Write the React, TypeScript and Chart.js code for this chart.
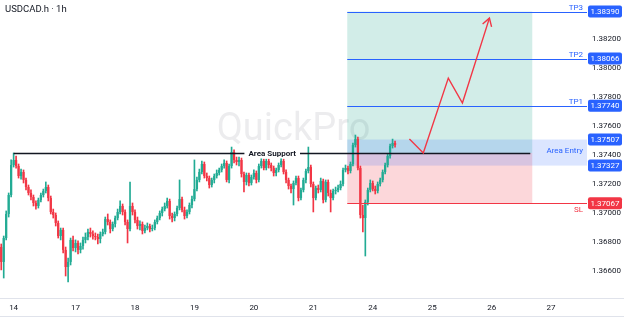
import { useEffect, useRef } from 'react';
import { Chart, registerables } from 'chart.js';

Chart.register(...registerables);

const TITLE = 'USDCAD.h · 1h';
const WATERMARK = 'QuickPro';
const FIRST_OPEN = 1.36765;

const CLOSES = [
  1.36662, 1.36827, 1.36993, 1.37124, 1.37331, 1.37366, 1.37324, 1.37255, 1.37283, 1.37228,
  1.37179, 1.37138, 1.3711, 1.37069, 1.37048, 1.3709, 1.37124, 1.37152, 1.37179, 1.37103,
  1.37007, 1.36986, 1.36931, 1.36841, 1.36883, 1.36745, 1.36627, 1.36662, 1.36814, 1.36758,
  1.36793, 1.36745, 1.36772, 1.36814, 1.36834, 1.36869, 1.36855, 1.36841, 1.36834, 1.3682,
  1.36855, 1.36869, 1.36958, 1.36938, 1.36889, 1.36924, 1.36965, 1.37007, 1.37048, 1.37007,
  1.36938, 1.36889, 1.37048, 1.37007, 1.36952, 1.3691, 1.36924, 1.36876, 1.36896, 1.3691,
  1.36889, 1.36896, 1.36938, 1.36965, 1.37, 1.37027, 1.37048, 1.37083, 1.36979, 1.36965,
  1.36993, 1.37034, 1.37096, 1.37021, 1.36979, 1.37007, 1.37055, 1.37096, 1.37165, 1.37228,
  1.37283, 1.37338, 1.37255, 1.37241, 1.37193, 1.37228, 1.37255, 1.37276, 1.37297, 1.37324,
  1.37345, 1.37228, 1.37324, 1.37421, 1.37366, 1.37352, 1.37366, 1.37269, 1.37214, 1.37262,
  1.37207, 1.37248, 1.37276, 1.37228, 1.37324, 1.37359, 1.3731, 1.37359, 1.37331, 1.3731,
  1.37276, 1.37297, 1.37331, 1.37359, 1.37283, 1.37228, 1.37186, 1.37165, 1.37207, 1.37241,
  1.37103, 1.37159, 1.37228, 1.3729, 1.37317, 1.372, 1.37103, 1.37172, 1.37159, 1.37221,
  1.3709, 1.37214, 1.37138, 1.37103, 1.37152, 1.37159, 1.37172, 1.372, 1.37297, 1.3731,
  1.3729, 1.37338, 1.37469, 1.3751, 1.3731, 1.36986, 1.36965, 1.37076, 1.37159, 1.37207,
  1.37165, 1.37152, 1.372, 1.37228, 1.37283, 1.37331, 1.37393, 1.37462, 1.37483, 1.37469,
];

const HIGHS = [
  1.36786, 1.36841, 1.37014, 1.37138, 1.37366, 1.37414, 1.37393, 1.37338, 1.37303, 1.37297,
  1.37241, 1.37193, 1.37159, 1.37124, 1.37083, 1.37103, 1.37138, 1.37165, 1.37214, 1.37193,
  1.37117, 1.37027, 1.37, 1.36945, 1.36896, 1.36896, 1.36765, 1.36689, 1.36827, 1.36841,
  1.36814, 1.36807, 1.36793, 1.36834, 1.36862, 1.36889, 1.36896, 1.36876, 1.36862, 1.36855,
  1.36869, 1.36889, 1.36972, 1.36993, 1.36952, 1.36938, 1.36979, 1.37027, 1.37083, 1.37062,
  1.37021, 1.36952, 1.37214, 1.37069, 1.37021, 1.36972, 1.36945, 1.36938, 1.36917, 1.36931,
  1.36924, 1.36917, 1.36952, 1.36979, 1.37014, 1.37041, 1.37069, 1.37103, 1.37096, 1.37,
  1.37007, 1.37048, 1.37228, 1.3711, 1.37041, 1.37021, 1.37069, 1.37117, 1.37366, 1.37248,
  1.37303, 1.37359, 1.37352, 1.37276, 1.37255, 1.37241, 1.37269, 1.37297, 1.3731, 1.37338,
  1.37366, 1.37359, 1.37338, 1.37455, 1.37435, 1.37386, 1.37386, 1.37379, 1.37283, 1.37276,
  1.37276, 1.37262, 1.37297, 1.3729, 1.37338, 1.37379, 1.37372, 1.37372, 1.37372, 1.37345,
  1.37324, 1.3731, 1.37345, 1.37379, 1.37372, 1.37297, 1.37241, 1.372, 1.37221, 1.37255,
  1.37255, 1.37172, 1.37241, 1.37303, 1.37455, 1.37331, 1.37214, 1.37186, 1.37193, 1.37241,
  1.37234, 1.37228, 1.37228, 1.37159, 1.37165, 1.37179, 1.37193, 1.37221, 1.3731, 1.37331,
  1.37324, 1.37352, 1.37483, 1.37538, 1.37524, 1.37324, 1.37055, 1.3709, 1.37172, 1.37228,
  1.37221, 1.37186, 1.37214, 1.37241, 1.37297, 1.37345, 1.37407, 1.37476, 1.3751, 1.37497,
];

const LOWS = [
  1.36607, 1.36551, 1.36814, 1.36972, 1.3711, 1.37317, 1.3731, 1.37241, 1.37234, 1.37207,
  1.37159, 1.37124, 1.3709, 1.37048, 1.37027, 1.37034, 1.37076, 1.3711, 1.37138, 1.37083,
  1.36993, 1.36965, 1.3691, 1.36827, 1.36814, 1.36724, 1.36565, 1.36524, 1.36641, 1.36738,
  1.36731, 1.36717, 1.36724, 1.36751, 1.36793, 1.36814, 1.36834, 1.3682, 1.36814, 1.36786,
  1.36793, 1.36841, 1.36855, 1.36917, 1.36862, 1.36876, 1.36903, 1.36952, 1.36993, 1.36986,
  1.36917, 1.36793, 1.36876, 1.36986, 1.36931, 1.36889, 1.36883, 1.36855, 1.36862, 1.36883,
  1.36869, 1.36876, 1.36883, 1.36924, 1.36952, 1.36979, 1.37014, 1.37034, 1.36958, 1.36938,
  1.36945, 1.36979, 1.37021, 1.37007, 1.36958, 1.36965, 1.36993, 1.37034, 1.37083, 1.37152,
  1.37214, 1.37269, 1.37241, 1.37221, 1.37172, 1.37179, 1.37207, 1.37241, 1.37262, 1.37283,
  1.3731, 1.37214, 1.37207, 1.3731, 1.37345, 1.37331, 1.37324, 1.37248, 1.37145, 1.37193,
  1.37186, 1.37193, 1.37234, 1.37207, 1.37214, 1.3731, 1.37297, 1.37297, 1.3731, 1.3729,
  1.37255, 1.37255, 1.37283, 1.37317, 1.37269, 1.37207, 1.37165, 1.37138, 1.37055, 1.37193,
  1.37083, 1.3709, 1.37145, 1.37207, 1.37276, 1.37179, 1.37007, 1.3709, 1.37138, 1.37145,
  1.37069, 1.37076, 1.37117, 1.37007, 1.3709, 1.37131, 1.37145, 1.37159, 1.37186, 1.37283,
  1.37269, 1.37276, 1.37324, 1.37455, 1.37297, 1.36965, 1.36869, 1.36703, 1.37055, 1.37145,
  1.37152, 1.37131, 1.37138, 1.37186, 1.37214, 1.37269, 1.37317, 1.37379, 1.37448, 1.37455,
];

// hourly slots shown on the time axis (data + empty future space)
const TOTAL_SLOTS = 237;
const DAY_TICK_INDEX = [5, 30, 54, 78, 102, 126, 150, 174, 198, 222];
const DAY_TICK_LABELS = ['14', '17', '18', '19', '20', '21', '24', '25', '26', '27'];

const Y_MIN = 1.3642;
const Y_MAX = 1.3847;
const Y_TICKS = [1.366, 1.368, 1.37, 1.372, 1.374, 1.376, 1.378, 1.38, 1.382];

const TP_LABELS = ['TP3', 'TP2', 'TP1'];
const TP_PRICES = [1.3839, 1.38066, 1.3774];
const ENTRY_TOP = 1.37507;
const ENTRY_BOTTOM = 1.37327;
const SUPPORT = 1.37414;
const STOP_LOSS = 1.37067;

const ZONE_START = 139.7;
const ZONE_END = 214.4;
const SUPPORT_START = 5;
const SUPPORT_END = 213.6;
const SUPPORT_LABEL_AT = 109.4;

const ARROW_X = [164.8, 170.4, 180.5, 186.2, 197.1];
const ARROW_Y = [1.3751, 1.37414, 1.37931, 1.37759, 1.38345];

const UP = '#22ab94';
const DOWN = '#f23645';
const BLUE = '#2962ff';
const TEXT = '#131722';
const FONT = 'Roboto, "Liberation Sans", sans-serif';

const overlayPlugin = {
  id: 'overlay',
  beforeDatasetsDraw(chart: any) {
    const { ctx, chartArea, scales } = chart;
    const x = scales.x;
    const y = scales.y;
    ctx.save();
    // watermark
    ctx.font = `38px ${FONT}`;
    ctx.fillStyle = 'rgba(120,123,134,0.14)';
    ctx.textAlign = 'center';
    ctx.textBaseline = 'alphabetic';
    ctx.fillText(WATERMARK, (chartArea.left + chartArea.right) / 2, chartArea.top + 140);

    const x0 = x.getPixelForValue(ZONE_START);
    const x1 = x.getPixelForValue(ZONE_END);
    // profit zone
    ctx.fillStyle = 'rgba(8,153,129,0.18)';
    const gTop = y.getPixelForValue(TP_PRICES[0]);
    const gBot = y.getPixelForValue(SUPPORT);
    ctx.fillRect(x0, gTop, x1 - x0, gBot - gTop);
    // loss zone
    ctx.fillStyle = 'rgba(242,54,69,0.2)';
    const rBot = y.getPixelForValue(STOP_LOSS);
    ctx.fillRect(x0, gBot, x1 - x0, rBot - gBot);
    // entry area
    ctx.fillStyle = 'rgba(41,98,255,0.17)';
    const bTop = y.getPixelForValue(ENTRY_TOP);
    const bBot = y.getPixelForValue(ENTRY_BOTTOM);
    ctx.fillRect(x0, bTop, chartArea.right - x0, bBot - bTop);
    ctx.restore();
  },
  afterDraw(chart: any) {
    const { ctx, chartArea, scales, width, height } = chart;
    const x = scales.x;
    const y = scales.y;
    const x0 = x.getPixelForValue(ZONE_START);
    ctx.save();

    // support line
    const sy = Math.round(y.getPixelForValue(SUPPORT)) + 0.5;
    ctx.strokeStyle = TEXT;
    ctx.lineWidth = 1.3;
    ctx.beginPath();
    ctx.moveTo(x.getPixelForValue(SUPPORT_START), sy);
    ctx.lineTo(x.getPixelForValue(SUPPORT_END), sy);
    ctx.stroke();
    ctx.font = `bold 8px ${FONT}`;
    const lx = x.getPixelForValue(SUPPORT_LABEL_AT);
    const tw = ctx.measureText('Area Support').width;
    ctx.fillStyle = '#ffffff';
    ctx.fillRect(lx - tw / 2 - 4, sy - 5, tw + 8, 10);
    ctx.fillStyle = TEXT;
    ctx.textAlign = 'center';
    ctx.textBaseline = 'middle';
    ctx.fillText('Area Support', lx, sy);

    // TP lines
    ctx.font = `8px ${FONT}`;
    ctx.textAlign = 'right';
    TP_PRICES.forEach((p, i) => {
      const ly = Math.round(y.getPixelForValue(p)) + 0.5;
      ctx.strokeStyle = BLUE;
      ctx.lineWidth = 1.2;
      ctx.beginPath();
      ctx.moveTo(x0, ly);
      ctx.lineTo(chartArea.right, ly);
      ctx.stroke();
      ctx.fillStyle = BLUE;
      ctx.textBaseline = 'bottom';
      ctx.fillText(TP_LABELS[i], chartArea.right - 4, ly - 1);
    });
    // SL line
    const sl = Math.round(y.getPixelForValue(STOP_LOSS)) + 0.5;
    ctx.strokeStyle = DOWN;
    ctx.beginPath();
    ctx.moveTo(x0, sl);
    ctx.lineTo(chartArea.right, sl);
    ctx.stroke();
    ctx.fillStyle = DOWN;
    ctx.textBaseline = 'top';
    ctx.fillText('SL', chartArea.right - 4, sl + 2);
    // entry label
    ctx.fillStyle = BLUE;
    ctx.textBaseline = 'middle';
    ctx.fillText('Area Entry', chartArea.right - 4, y.getPixelForValue(ENTRY_TOP) + 11);

    // arrow
    ctx.strokeStyle = DOWN;
    ctx.lineWidth = 1.4;
    ctx.lineJoin = 'miter';
    ctx.beginPath();
    ARROW_X.forEach((ax, i) => {
      const px = x.getPixelForValue(ax);
      const py = y.getPixelForValue(ARROW_Y[i]);
      if (i === 0) ctx.moveTo(px, py);
      else ctx.lineTo(px, py);
    });
    ctx.stroke();
    const n = ARROW_X.length;
    const tx = x.getPixelForValue(ARROW_X[n - 1]);
    const ty = y.getPixelForValue(ARROW_Y[n - 1]);
    const fx = x.getPixelForValue(ARROW_X[n - 2]);
    const fy = y.getPixelForValue(ARROW_Y[n - 2]);
    const ang = Math.atan2(ty - fy, tx - fx);
    ctx.beginPath();
    ctx.moveTo(tx + 9 * Math.cos(ang + Math.PI - 0.55), ty + 9 * Math.sin(ang + Math.PI - 0.55));
    ctx.lineTo(tx, ty);
    ctx.lineTo(tx + 9 * Math.cos(ang + Math.PI + 0.55), ty + 9 * Math.sin(ang + Math.PI + 0.55));
    ctx.stroke();

    // axis price tags
    const tags: [number, string][] = [
      [TP_PRICES[0], BLUE], [TP_PRICES[1], BLUE], [TP_PRICES[2], BLUE],
      [ENTRY_TOP, BLUE], [ENTRY_BOTTOM, BLUE], [STOP_LOSS, DOWN],
    ];
    ctx.font = `8px ${FONT}`;
    ctx.textAlign = 'center';
    ctx.textBaseline = 'middle';
    tags.forEach(([p, c]) => {
      const ty2 = y.getPixelForValue(p);
      ctx.fillStyle = c;
      ctx.beginPath();
      (ctx as any).roundRect(chartArea.right + 1, ty2 - 6, 34, 12, 2);
      ctx.fill();
      ctx.fillStyle = '#ffffff';
      ctx.fillText(p.toFixed(5), chartArea.right + 18, ty2 + 0.5);
    });

    // title
    ctx.font = `9.5px ${FONT}`;
    ctx.fillStyle = TEXT;
    ctx.textAlign = 'left';
    ctx.textBaseline = 'middle';
    ctx.fillText(TITLE, 5, 10);

    // bottom separators
    ctx.strokeStyle = '#e0e3eb';
    ctx.lineWidth = 1;
    ctx.beginPath();
    ctx.moveTo(0, chartArea.bottom + 1.5);
    ctx.lineTo(width, chartArea.bottom + 1.5);
    ctx.moveTo(0, height - 0.5);
    ctx.lineTo(width, height - 0.5);
    ctx.stroke();
    ctx.restore();
  },
};

export default function App() {
  const ref = useRef<HTMLCanvasElement>(null);
  useEffect(() => {
    const canvas = ref.current;
    if (!canvas) return;
    const opens = [FIRST_OPEN, ...CLOSES.slice(0, -1)];
    const colors = CLOSES.map((c, i) => (c >= opens[i] ? UP : DOWN));
    const labels = Array.from({ length: TOTAL_SLOTS }, (_, i) => {
      const k = DAY_TICK_INDEX.indexOf(i);
      return k >= 0 ? DAY_TICK_LABELS[k] : '';
    });
    const chart = new Chart(canvas, {
      type: 'bar',
      data: {
        labels,
        datasets: [
          {
            label: 'body',
            data: CLOSES.map((c, i) => [opens[i], c]) as any,
            backgroundColor: colors,
            barPercentage: 0.92,
            categoryPercentage: 1,
            grouped: false,
            order: 0,
            minBarLength: 1,
          } as any,
          {
            label: 'wick',
            data: LOWS.map((l, i) => [l, HIGHS[i]]) as any,
            backgroundColor: colors,
            barThickness: 1,
            grouped: false,
            order: 1,
          } as any,
        ],
      },
      options: {
        animation: false,
        responsive: false,
        events: [],
        layout: { padding: 0 },
        plugins: { legend: { display: false }, tooltip: { enabled: false } },
        scales: {
          x: {
            type: 'category',
            position: 'bottom',
            grid: { display: false, drawTicks: false },
            border: { display: false },
            ticks: {
              autoSkip: false,
              maxRotation: 0,
              minRotation: 0,
              padding: 6,
              color: TEXT,
              font: { family: FONT, size: 8 },
              callback: (_v: any, i: number) => (labels[i] ? labels[i] : null),
            },
            afterFit: (s: any) => {
              s.height = 20;
              s.paddingLeft = 0;
              s.paddingRight = 0;
            },
          },
          y: {
            position: 'right',
            min: Y_MIN,
            max: Y_MAX,
            grid: { display: false, drawTicks: false },
            border: { display: false },
            ticks: {
              padding: 5,
              color: TEXT,
              font: { family: FONT, size: 8 },
              callback: (v: any) => Number(v).toFixed(5),
            },
            afterBuildTicks: (s: any) => {
              s.ticks = Y_TICKS.map((v) => ({ value: v }));
            },
            afterFit: (s: any) => {
              s.width = 37;
              s.paddingTop = 0;
              s.paddingBottom = 0;
            },
          },
        },
      } as any,
      plugins: [overlayPlugin],
    });
    return () => chart.destroy();
  }, []);
  return (
    <div style={{ position: 'fixed', left: 0, top: 0, width: 624, height: 317, background: '#fff' }}>
      <canvas ref={ref} width={624} height={317} />
    </div>
  );
}
